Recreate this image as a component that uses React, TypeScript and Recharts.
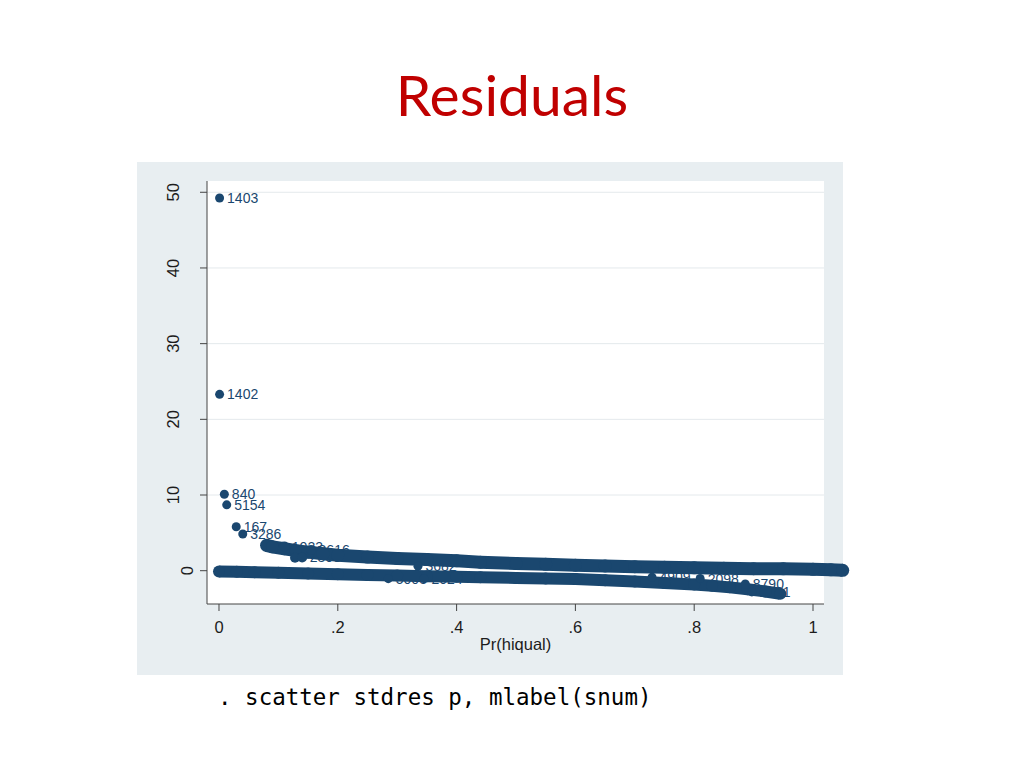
import React from 'react';
import { ScatterChart, Scatter, XAxis, YAxis, ReferenceLine } from 'recharts';

// ---- data ----
const xTicks = [0, 0.2, 0.4, 0.6, 0.8, 1];
const yTicks = [0, 10, 20, 30, 40, 50];
const gridValues = [10, 20, 30, 40, 50];

// isolated, labelled outliers
const outlierP = [0.001, 0.001, 0.009, 0.013, 0.029, 0.04];
const outlierRes = [49.25, 23.3, 10.1, 8.7, 5.8, 4.85];
const outlierLabels = ['1403', '1402', '840', '5154', '167', '3286'];

// dense upper band (hiqual = 1)
const upperP = [0.08, 0.09, 0.11, 0.13, 0.15, 0.175, 0.2, 0.25, 0.3, 0.35, 0.4, 0.44, 0.5, 0.55, 0.6, 0.65, 0.7, 0.75, 0.8, 0.85, 0.9, 0.95, 1.0, 1.03, 1.05];
const upperRes = [3.35, 3.15, 2.9, 2.65, 2.45, 2.25, 2.05, 1.8, 1.62, 1.47, 1.3, 1.12, 0.95, 0.84, 0.73, 0.62, 0.53, 0.45, 0.38, 0.32, 0.27, 0.25, 0.18, 0.12, 0.05];

// dense lower band (hiqual = 0)
const lowerP = [0, 0.03, 0.06, 0.1, 0.15, 0.2, 0.25, 0.3, 0.35, 0.4, 0.44, 0.5, 0.55, 0.6, 0.65, 0.7, 0.75, 0.8, 0.83, 0.86, 0.89, 0.92, 0.945];
const lowerRes = [-0.1, -0.15, -0.2, -0.28, -0.37, -0.47, -0.56, -0.65, -0.73, -0.81, -0.87, -0.95, -1.02, -1.1, -1.25, -1.42, -1.62, -1.83, -1.98, -2.2, -2.45, -2.75, -3.05];

// extra points at the top-left of the upper band
const extraP = [0.11, 0.128, 0.14, 0.155];
const extraRes = [3.2, 1.7, 1.75, 2.75];
const extraLabels = ['1023', '', '2800', '3616'];

// labelled points near the band edges
const tailP = [0.285, 0.335, 0.345, 0.729, 0.81, 0.886, 0.897];
const tailRes = [-1.05, 0.6, -1.05, -0.85, -1.03, -1.76, -2.8];
const tailLabels = ['5003', '3682', '2024', '4909', '2098', '8790', '1401'];

// ---- styles ----
const NAVY = '#1a476f';
const PANEL = '#e8eef1';
const SANS = '"Liberation Sans", Arial, Helvetica, sans-serif';
const X_MIN = -0.0202;
const X_WHITE_MAX = 1.0185;
const X_MAX = 1.0707;
const Y_MIN = -4.4;
const Y_MAX = 51.49;

const build = (ps: number[], vs: number[], labels?: string[]) =>
  ps.map((p, i) => ({ p, v: vs[i], label: labels ? labels[i] : '' }));

const outliers = build(outlierP, outlierRes, outlierLabels);
const upper = build(upperP, upperRes);
const lower = build(lowerP, lowerRes);
const extra = build(extraP, extraRes, extraLabels);
const tail = build(tailP, tailRes, tailLabels);

const makeShape = (r: number) => (props: any) => {
  const { cx, cy, payload } = props;
  if (cx == null || cy == null) return <g />;
  return (
    <g>
      <circle cx={cx} cy={cy} r={r} fill={NAVY} />
      {payload && payload.label ? (
        <text x={cx + 7.5} y={cy} dy="0.36em" fontSize={14} fill={NAVY} fontFamily={SANS}>
          {payload.label}
        </text>
      ) : null}
    </g>
  );
};

const YTick = (props: any) => {
  const { x, y, payload } = props;
  const s = String(payload.value);
  const bx = x - (s.length === 1 ? 5 : 19);
  return (
    <text
      x={bx}
      y={y}
      transform={`rotate(-90 ${bx} ${y})`}
      textAnchor="middle"
      fontSize={16.5}
      fill="#1c1c1c"
      fontFamily={SANS}
    >
      {s}
    </text>
  );
};

const fmtX = (v: number) => (v === 0 ? '0' : v === 1 ? '1' : String(v).replace(/^0\./, '.'));

export default function App() {
  return (
    <div style={{ position: 'absolute', left: 0, top: 0, width: 1024, height: 768, background: '#ffffff', overflow: 'hidden' }}>
      <div style={{ position: 'absolute', left: 137, top: 162, width: 706, height: 513, background: PANEL }} />
      <div style={{ position: 'absolute', left: 207, top: 181, width: 617, height: 423, background: '#ffffff' }} />
      <div style={{ position: 'absolute', left: 0, top: 0 }}>
        <ScatterChart width={1024} height={768} margin={{ top: 181, right: 169, bottom: 104, left: 147 }}>
          <XAxis
            type="number"
            dataKey="p"
            domain={[X_MIN, X_MAX]}
            allowDataOverflow
            ticks={xTicks}
            tickFormatter={fmtX}
            axisLine={false}
            tickLine={{ stroke: '#444' }}
            tickSize={7}
            tickMargin={10}
            height={60}
            tick={{ fontSize: 16.5, fill: '#1c1c1c', fontFamily: SANS }}
          />
          <YAxis
            type="number"
            dataKey="v"
            domain={[Y_MIN, Y_MAX]}
            allowDataOverflow
            ticks={yTicks}
            axisLine={{ stroke: '#444' }}
            tickLine={{ stroke: '#444' }}
            tickSize={7}
            width={60}
            tick={<YTick />}
          />
          {gridValues.map((g) => (
            <ReferenceLine
              key={g}
              segment={[{ x: X_MIN, y: g }, { x: X_WHITE_MAX, y: g }]}
              stroke="#e4e9ec"
              strokeWidth={1}
            />
          ))}
          <ReferenceLine
            segment={[{ x: X_MIN, y: Y_MIN }, { x: X_WHITE_MAX, y: Y_MIN }]}
            stroke="#444"
            strokeWidth={1}
          />
          <Scatter
            data={lower}
            fill={NAVY}
            isAnimationActive={false}
            line={{ stroke: NAVY, strokeWidth: 12 }}
            shape={makeShape(6)}
          />
          <Scatter
            data={upper}
            fill={NAVY}
            isAnimationActive={false}
            line={{ stroke: NAVY, strokeWidth: 13 }}
            shape={makeShape(6.5)}
          />
          <Scatter data={extra} fill={NAVY} isAnimationActive={false} shape={makeShape(5)} />
          <Scatter data={tail} fill={NAVY} isAnimationActive={false} shape={makeShape(4.5)} />
          <Scatter data={outliers} fill={NAVY} isAnimationActive={false} shape={makeShape(4.5)} />
        </ScatterChart>
      </div>
      <svg width={1024} height={768} style={{ position: 'absolute', left: 0, top: 0, pointerEvents: 'none' }}>
        <text x={512} y={116} textAnchor="middle" fontSize={57} fill="#c00000" fontFamily="Lato, 'Open Sans', sans-serif">
          Residuals
        </text>
        <text x={515.5} y={650} textAnchor="middle" fontSize={16.5} fill="#1c1c1c" fontFamily={SANS}>
          Pr(hiqual)
        </text>
        <text x={218} y={705} fontSize={22.5} fill="#000000" fontFamily="'DejaVu Sans Mono', 'Liberation Mono', monospace" xmlSpace="preserve">
          . scatter stdres p, mlabel(snum)
        </text>
      </svg>
    </div>
  );
}
